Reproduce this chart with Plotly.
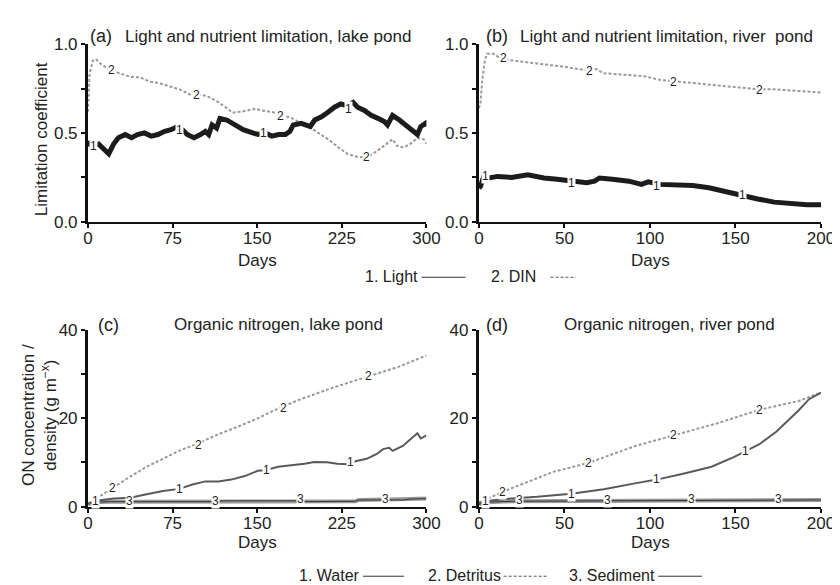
import plotly.graph_objects as go

# ---------------- data ----------------
# (a) lake pond limitation
a_light_day = [0, 1, 5, 9.5, 14, 18.4, 22.7, 27, 33, 38.6, 44, 50, 56, 62, 68, 73.6, 79.4, 83.7, 88, 94, 99.7,
               104, 107, 110, 114, 117, 123, 130, 137.6, 146, 151, 157, 163, 169, 175, 179, 182, 189, 197, 201,
               207, 213, 218.5, 224, 230, 235, 239, 245, 251, 257, 263, 265.5, 270, 276, 282, 287.6, 292, 295, 299, 300]
a_light_val = [0.456, 0.438, 0.429, 0.438, 0.41, 0.383, 0.438, 0.474, 0.492, 0.474, 0.492, 0.501, 0.483, 0.492, 0.51,
               0.519, 0.537, 0.519, 0.492, 0.474, 0.492, 0.51, 0.492, 0.546, 0.528, 0.583, 0.574, 0.546, 0.519, 0.501,
               0.492, 0.501, 0.483, 0.492, 0.492, 0.51, 0.546, 0.555, 0.537, 0.574, 0.592, 0.619, 0.646, 0.664, 0.655,
               0.673, 0.646, 0.628, 0.6, 0.583, 0.564, 0.546, 0.6, 0.574, 0.546, 0.519, 0.492, 0.537, 0.555, 0.537]
a_din_day = [0, 1.4, 4.3, 7, 11.5, 20, 29, 37.6, 46, 55, 64, 73, 81.7, 90, 96, 105, 113.6, 122, 128, 137, 148.5,
             154, 163, 172, 181, 189, 198, 204, 213, 222, 230, 239, 248, 256.6, 265.5, 270, 274, 280, 286, 292, 297.6, 300]
a_din_val = [0.62, 0.835, 0.908, 0.917, 0.89, 0.853, 0.835, 0.817, 0.814, 0.79, 0.78, 0.763, 0.745, 0.718, 0.718,
             0.71, 0.682, 0.646, 0.615, 0.622, 0.637, 0.628, 0.619, 0.603, 0.583, 0.555, 0.528, 0.501, 0.465, 0.419,
             0.383, 0.365, 0.365, 0.401, 0.446, 0.465, 0.428, 0.419, 0.44, 0.474, 0.465, 0.44]

# (b) river pond limitation
b_light_day = [0, 1, 2.8, 5.7, 11, 19, 28.6, 38, 45.7, 53, 63, 67.6, 70.5, 78, 87.7, 95, 99, 105.7, 115, 125,
               134.5, 144, 153.6, 163, 172.7, 182, 191.8, 200]
b_light_val = [0.19, 0.202, 0.256, 0.247, 0.256, 0.25, 0.265, 0.247, 0.24, 0.229, 0.22, 0.229, 0.247, 0.24, 0.229,
               0.211, 0.225, 0.211, 0.207, 0.205, 0.192, 0.169, 0.147, 0.129, 0.111, 0.102, 0.096, 0.096]
b_din_day = [0, 0.95, 2, 3.5, 4.8, 8.6, 11.4, 19, 34, 50, 61, 69, 72.5, 84, 97, 105.7, 115, 134, 153, 163, 172, 184, 199, 200]
b_din_val = [0.64, 0.674, 0.80, 0.91, 0.947, 0.947, 0.928, 0.91, 0.892, 0.874, 0.856, 0.86, 0.838, 0.828, 0.82,
             0.80, 0.792, 0.774, 0.756, 0.747, 0.747, 0.74, 0.729, 0.729]

# (c) lake pond organic nitrogen
c_water_day = [0, 7, 23, 37.6, 52, 66.5, 81, 92.6, 104, 115.6, 127, 139, 150.5, 157, 168.6, 180, 192, 200.5, 212,
               221, 229.5, 238, 247, 256, 261.6, 267, 270, 279, 287.6, 292, 295, 300]
c_water_val = [0.6, 1.3, 1.8, 2.0, 2.8, 3.5, 4.0, 5.0, 5.7, 5.7, 6.1, 6.9, 8.1, 8.2, 9.0, 9.3, 9.7, 10.1, 10.0, 9.7,
               9.6, 10.3, 10.8, 11.9, 13.0, 13.3, 12.6, 13.7, 15.5, 16.6, 15.4, 16.1]
c_detritus_day = [0, 1.4, 8.6, 21.6, 37.5, 52, 69, 80.6, 96.5, 115, 133, 150, 171, 188.6, 217, 247.6, 275, 300]
c_detritus_val = [0.5, 0.6, 2.0, 4.2, 6.8, 9.0, 11.2, 12.6, 14.2, 16.3, 18.1, 19.9, 22.5, 24.3, 26.9, 29.4, 31.6, 34.2]
c_sediment_day = [0, 5, 20, 40, 110, 120, 185, 188, 237, 240, 280, 285, 300]
c_sediment_val = [0.5, 1.0, 1.1, 1.1, 1.1, 1.3, 1.3, 1.1, 1.2, 1.5, 1.5, 1.7, 1.8]

# (d) river pond organic nitrogen
d_water_day = [0, 3.5, 15, 34, 54, 73, 92, 104, 120, 136, 149, 156, 164, 174, 181, 187, 193, 200]
d_water_val = [0.7, 1.2, 1.7, 2.2, 2.9, 3.9, 5.3, 6.1, 7.5, 9.0, 11.2, 12.6, 14.1, 17.0, 19.6, 21.8, 24.3, 25.8]
d_detritus_day = [0, 14.3, 43.8, 63.8, 91.4, 114, 139, 164, 187, 200]
d_detritus_val = [0.95, 3.4, 7.9, 9.85, 13.7, 16.1, 18.8, 21.9, 23.9, 25.8]
d_sediment_day = [0, 5, 20, 75, 117, 187, 200]
d_sediment_val = [0.5, 1.0, 1.2, 1.3, 1.4, 1.5, 1.5]

# tick values / labels
lim_ticks = [0, 0.5, 1.0]
lim_text = ["0.0", "0.5", "1.0"]
on_ticks = [0, 20, 40]
on_text = ["0", "20", "40"]
lake_days = [0, 75, 150, 225, 300]
river_days = [0, 50, 100, 150, 200]

# inline curve labels: (day, value, text)
a_labels = [(5, 0.43, "1"), (81, 0.52, "1"), (156, 0.50, "1"), (231, 0.635, "1"),
            (20.6, 0.855, "2"), (96, 0.715, "2"), (171, 0.598, "2"), (247, 0.364, "2")]
b_labels = [(3.8, 0.26, "1"), (54, 0.22, "1"), (104, 0.20, "1"), (154, 0.15, "1"),
            (14.3, 0.922, "2"), (64.4, 0.85, "2"), (114, 0.79, "2"), (164, 0.745, "2")]
c_labels = [(7, 1.3, "1"), (81, 3.9, "1"), (158, 8.3, "1"), (233, 10.1, "1"),
            (22, 4.1, "2"), (98, 13.9, "2"), (173, 22.3, "2"), (249, 29.6, "2"),
            (37, 1.3, "3"), (113, 1.2, "3"), (188, 1.7, "3"), (264, 1.7, "3")]
d_labels = [(3.8, 1.2, "1"), (54, 2.9, "1"), (104, 6.2, "1"), (156, 12.6, "1"),
            (14, 3.4, "2"), (64, 9.9, "2"), (114, 16.1, "2"), (164, 21.9, "2"),
            (24, 1.5, "3"), (75, 1.5, "3"), (124, 1.7, "3"), (175, 1.7, "3")]

# ---------------- figure ----------------
W, H = 840, 585
FONT = "Liberation Sans, Arial, Helvetica, sans-serif"
TXT = "#222222"
FS = 17

def px(x):
    return x / W

def py(y):
    return 1 - y / H

fig = go.Figure()

light_style = dict(color="#1c1c1c", width=5)
din_style = dict(color="#9a9a9a", width=2, dash="3px,2px")
water_style = dict(color="#5a5a5a", width=2)
detritus_style = dict(color="#9a9a9a", width=2, dash="3px,2px")

def add(x, y, xa, ya, line):
    fig.add_trace(go.Scatter(x=x, y=y, xaxis=xa, yaxis=ya, mode="lines", line=line,
                             showlegend=False, hoverinfo="skip"))

add(a_din_day, a_din_val, "x", "y", din_style)
add(a_light_day, a_light_val, "x", "y", light_style)
add(b_din_day, b_din_val, "x2", "y2", din_style)
add(b_light_day, b_light_val, "x2", "y2", light_style)

add(c_sediment_day, c_sediment_val, "x3", "y3", dict(color="#9a9a9a", width=4))
add(c_sediment_day, c_sediment_val, "x3", "y3", dict(color="#333333", width=1))
add(c_detritus_day, c_detritus_val, "x3", "y3", detritus_style)
add(c_water_day, c_water_val, "x3", "y3", water_style)

add(d_sediment_day, d_sediment_val, "x4", "y4", dict(color="#9a9a9a", width=4))
add(d_sediment_day, d_sediment_val, "x4", "y4", dict(color="#333333", width=1))
add(d_detritus_day, d_detritus_val, "x4", "y4", detritus_style)
add(d_water_day, d_water_val, "x4", "y4", water_style)

dom_left = [76.7 / W, 423 / W]
dom_right = [476.7 / W, 826.7 / W]
dom_top = [py(211.7), py(28.3)]
dom_bot = [py(506), py(323.3)]

def xax(dom, rng, tick, anchor):
    return dict(domain=dom, range=rng, anchor=anchor, showline=True, linecolor="#111", linewidth=2,
                ticks="outside", ticklen=4, tickwidth=1.5, tickcolor="#111", tickvals=tick,
                ticklabelstandoff=-4,
                showgrid=False, zeroline=False, tickfont=dict(family=FONT, size=FS, color=TXT))

def yax(dom, rng, tick, text, minor_step, anchor):
    return dict(domain=dom, range=rng, anchor=anchor, showline=True, linecolor="#111", linewidth=3,
                ticks="outside", ticklen=4, tickwidth=1.5, tickcolor="#111", tickvals=tick, ticktext=text,
                minor=dict(dtick=minor_step, ticks="outside", ticklen=4, tickwidth=1.5, tickcolor="#111",
                           showgrid=False),
                showgrid=False, zeroline=False, tickfont=dict(family=FONT, size=FS, color=TXT))

fig.update_layout(
    width=W, height=H, margin=dict(l=0, r=0, t=0, b=0),
    paper_bgcolor="white", plot_bgcolor="white",
    font=dict(family=FONT, size=FS, color=TXT),
    xaxis=xax(dom_left, [0, 300], lake_days, "y"),
    yaxis=yax(dom_top, [0, 1], lim_ticks, lim_text, 0.25, "x"),
    xaxis2=xax(dom_right, [0, 200], river_days, "y2"),
    yaxis2=yax(dom_top, [0, 1], lim_ticks, lim_text, 0.25, "x2"),
    xaxis3=xax(dom_left, [0, 300], lake_days, "y3"),
    yaxis3=yax(dom_bot, [0, 40], on_ticks, on_text, 10, "x3"),
    xaxis4=xax(dom_right, [0, 200], river_days, "y4"),
    yaxis4=yax(dom_bot, [0, 40], on_ticks, on_text, 10, "x4"),
)

ann = []

def paper_text(x, y, text, xanchor="left", size=FS, angle=0):
    ann.append(dict(x=px(x), y=py(y), xref="paper", yref="paper", text=text, showarrow=False,
                    xanchor=xanchor, yanchor="middle", textangle=angle,
                    font=dict(family=FONT, size=size, color=TXT)))

# panel titles
paper_text(77, 20, "(a)", size=18)
paper_text(113, 20, "Light and nutrient limitation, lake pond")
paper_text(482, 20, "(b)", size=18)
paper_text(517, 20, "Light and nutrient limitation, river  pond")
paper_text(85, 318, "(c)", size=18)
paper_text(163, 318, "Organic nitrogen, lake pond")
paper_text(482, 318, "(d)", size=18)
paper_text(562, 318, "Organic nitrogen, river pond")

# axis titles
paper_text(250, 252, "Days", xanchor="center")
paper_text(652, 252, "Days", xanchor="center")
paper_text(250, 543, "Days", xanchor="center")
paper_text(652, 543, "Days", xanchor="center")
paper_text(30, 126, "Limitation coefficient", xanchor="center", angle=-90)
paper_text(27, 411, "ON concentration /<br>density (g m<sup>−x</sup>)", xanchor="center", angle=-90)

# legends
paper_text(358, 268, "1. Light", size=16)
paper_text(487, 268, "2. DIN", size=16)
paper_text(291, 577, "1. Water", size=16)
paper_text(423, 577, "2. Detritus", size=16)
paper_text(567, 577, "3. Sediment", size=16)

shapes = []

def leg_line(x0, x1, y, color, dash="solid"):
    shapes.append(dict(type="line", xref="paper", yref="paper", x0=px(x0), x1=px(x1), y0=py(y), y1=py(y),
                       line=dict(color=color, width=1, dash=dash)))

leg_line(418, 463, 269, "#333333")
leg_line(550, 576, 269, "#555555", "3px,2px")
leg_line(358, 400, 578, "#333333")
leg_line(502, 547, 578, "#555555", "3px,2px")
leg_line(660, 705, 578, "#333333")

# inline labels on curves
for labels, xr, yr in [(a_labels, "x", "y"), (b_labels, "x2", "y2"), (c_labels, "x3", "y3"), (d_labels, "x4", "y4")]:
    for (dx, dy, t) in labels:
        ann.append(dict(x=dx, y=dy, xref=xr, yref=yr, text=t, showarrow=False, bgcolor="white",
                        borderpad=0, font=dict(family=FONT, size=12, color="#222")))

fig.update_layout(annotations=ann, shapes=shapes)

fig.write_html("out.html")
